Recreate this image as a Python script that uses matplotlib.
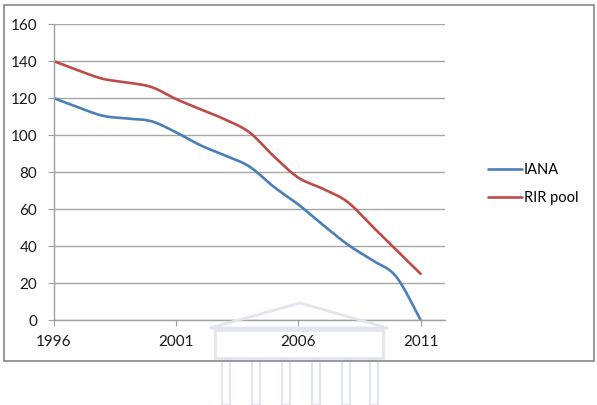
import numpy as np
import matplotlib
matplotlib.use('Agg')
import matplotlib.pyplot as plt
from matplotlib.patches import Rectangle, Polygon

years = [1996, 1997, 1998, 1999, 2000, 2001, 2002, 2003,
         2004, 2005, 2006, 2007, 2008, 2009, 2010, 2011]
iana = [120, 115, 110.5, 109, 107.5, 101.5, 94.5, 89,
        83, 72, 62.5, 51.5, 41, 32.5, 23.5, 0]
rir_pool = [140, 135, 130.5, 128.5, 126, 119.5, 114, 108.5,
            101.5, 88.5, 77, 71, 64, 51, 38, 25]
x_ticks = [1996, 2001, 2006, 2011]
y_ticks = list(range(0, 161, 20))


def smooth(xs, ys, n=30):
    # catmull-rom style smoothing, like excel's "smoothed line"
    xs = np.asarray(xs, float)
    ys = np.asarray(ys, float)
    px = np.concatenate([[xs[0]], xs, [xs[-1]]])
    py = np.concatenate([[ys[0]], ys, [ys[-1]]])
    outx, outy = [], []
    t = np.linspace(0, 1, n, endpoint=False)
    for i in range(1, len(px) - 2):
        p0, p1, p2, p3 = (np.array([px[j], py[j]]) for j in (i - 1, i, i + 1, i + 2))
        c1 = p1 + (p2 - p0) / 6
        c2 = p2 - (p3 - p1) / 6
        b = ((1 - t) ** 3)[:, None] * p1 + (3 * (1 - t) ** 2 * t)[:, None] * c1 \
            + (3 * (1 - t) * t ** 2)[:, None] * c2 + (t ** 3)[:, None] * p2
        outx.extend(b[:, 0])
        outy.extend(b[:, 1])
    outx.append(xs[-1])
    outy.append(ys[-1])
    return outx, outy


plt.rcParams['font.family'] = ['Lato', 'DejaVu Sans']

fig = plt.figure(figsize=(5.97, 4.05), dpi=100)
W, H = 597, 405

# faint watermark (building) behind everything
wm = '#e3e5ee'
fig.patches.append(Polygon([(210 / W, 1 - 328 / H), (300 / W, 1 - 303 / H), (388 / W, 1 - 328 / H)],
                           closed=True, fill=False, edgecolor=wm, lw=2, transform=fig.transFigure, zorder=0))
fig.patches.append(Rectangle((215 / W, 1 - 358 / H), 168 / W, 28 / H, fill=False,
                             edgecolor=wm, lw=2, transform=fig.transFigure, zorder=0))
for cx in [222, 252, 282, 312, 342, 370]:
    fig.patches.append(Rectangle((cx / W, 0), 8 / W, 1 - 360 / H, fill=False,
                                 edgecolor=wm, lw=1.6, transform=fig.transFigure, zorder=0))

# chart border
fig.patches.append(Rectangle((3.5 / W, 1 - 361 / H), 590 / W, 356 / H, fill=False,
                             edgecolor='#888888', lw=1.2, transform=fig.transFigure, zorder=1))

ax = fig.add_axes([54 / W, 1 - 320 / H, (445 - 54) / W, (320 - 24.3) / H])
ax.patch.set_alpha(0)

sx, sy = smooth(years, iana)
ax.plot(sx, sy, color='#4a7ebb', lw=1.9, label='IANA', solid_capstyle='round')
sx, sy = smooth(years, rir_pool)
ax.plot(sx, sy, color='#be4b48', lw=1.9, label='RIR pool', solid_capstyle='round')

ax.set_xlim(1996, 2012)
ax.set_ylim(0, 160)
ax.set_xticks(x_ticks)
ax.set_yticks(y_ticks)
ax.yaxis.grid(True, color='#a6a6a6', lw=1)
ax.set_axisbelow(True)
for s in ['top', 'right']:
    ax.spines[s].set_visible(False)
for s in ['left', 'bottom']:
    ax.spines[s].set_color('#a0a0a0')
    ax.spines[s].set_linewidth(1)
ax.tick_params(axis='both', color='#a0a0a0', length=4, labelsize=11, labelcolor='#1a1a1a')
ax.tick_params(axis='y', pad=8)
ax.tick_params(axis='x', pad=7)

ax.legend(loc='center left', bbox_to_anchor=(475 / W, 1 - 184 / H), bbox_transform=fig.transFigure,
          frameon=False, fontsize=10.5, handlelength=2.3, handletextpad=0.15, labelspacing=1.0)

fig.savefig('out.png', dpi=100)
